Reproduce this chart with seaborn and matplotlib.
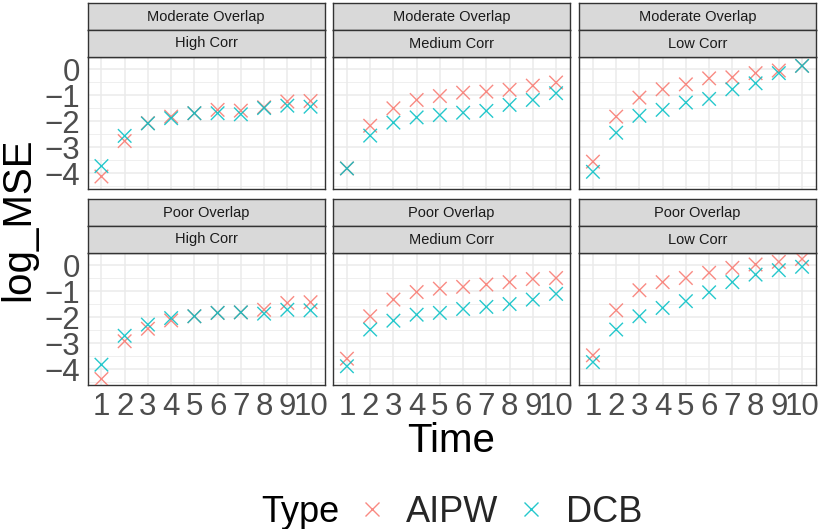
import numpy as np
import pandas as pd
import matplotlib
matplotlib.use("Agg")
import matplotlib.pyplot as plt
from matplotlib.lines import Line2D
from matplotlib.ticker import MultipleLocator
import seaborn as sns

# ---------------- data ----------------
times = list(range(1, 11))
overlaps = ["Moderate Overlap", "Moderate Overlap", "Moderate Overlap",
            "Poor Overlap", "Poor Overlap", "Poor Overlap"]
corrs = ["High Corr", "Medium Corr", "Low Corr",
         "High Corr", "Medium Corr", "Low Corr"]
types = ["AIPW", "DCB"]

aipw_mod_high = [-4.12, -2.76, -2.07, -1.82, -1.69, -1.56, -1.59, -1.46, -1.24, -1.22]
dcb_mod_high = [-3.72, -2.56, -2.08, -1.88, -1.69, -1.69, -1.73, -1.49, -1.40, -1.44]
aipw_mod_med = [-3.81, -2.17, -1.50, -1.18, -1.03, -0.90, -0.86, -0.79, -0.63, -0.51]
dcb_mod_med = [-3.81, -2.55, -2.05, -1.85, -1.76, -1.67, -1.60, -1.37, -1.18, -0.92]
aipw_mod_low = [-3.55, -1.82, -1.09, -0.77, -0.58, -0.35, -0.31, -0.15, -0.05, 0.13]
dcb_mod_low = [-3.94, -2.44, -1.79, -1.56, -1.28, -1.14, -0.77, -0.54, -0.15, 0.13]
aipw_poor_high = [-4.37, -2.92, -2.44, -2.12, -1.96, -1.83, -1.81, -1.71, -1.45, -1.42]
dcb_poor_high = [-3.82, -2.71, -2.28, -2.03, -1.96, -1.83, -1.81, -1.86, -1.71, -1.73]
aipw_poor_med = [-3.59, -1.96, -1.32, -1.03, -0.90, -0.83, -0.74, -0.65, -0.53, -0.49]
dcb_poor_med = [-3.88, -2.47, -2.13, -1.90, -1.83, -1.68, -1.60, -1.49, -1.32, -1.10]
aipw_poor_low = [-3.46, -1.73, -0.96, -0.65, -0.49, -0.29, -0.10, 0.03, 0.13, 0.24]
dcb_poor_low = [-3.72, -2.47, -1.96, -1.64, -1.38, -1.04, -0.65, -0.36, -0.19, -0.06]

aipw_series = [aipw_mod_high, aipw_mod_med, aipw_mod_low,
               aipw_poor_high, aipw_poor_med, aipw_poor_low]
dcb_series = [dcb_mod_high, dcb_mod_med, dcb_mod_low,
              dcb_poor_high, dcb_poor_med, dcb_poor_low]

y_ticks = [0, -1, -2, -3, -4]

rows = []
for p in range(6):
    for t, a, d in zip(times, aipw_series[p], dcb_series[p]):
        rows.append(dict(panel=p, Time=t, log_MSE=a, Type="AIPW"))
        rows.append(dict(panel=p, Time=t, log_MSE=d, Type="DCB"))
df = pd.DataFrame(rows)

# ---------------- style ----------------
sns.set_theme(style="white")
plt.rcParams["font.family"] = ["Liberation Sans", "DejaVu Sans"]
palette = {"AIPW": "#F8766D", "DCB": "#00BFC4"}

W, H = 822, 529
fig = plt.figure(figsize=(W / 100, H / 100), dpi=100)

col_x = [87.5, 333.0, 579.0]
pw = 237.0
row_top = [57.0, 253.0]
ph = 132.0
sh = 27.0

ymin_d = df["log_MSE"].min()
ymax_d = df["log_MSE"].max()
rng = ymax_d - ymin_d
ylim = (ymin_d - 0.05 * rng, ymax_d + 0.05 * rng)

def frac(x, y_top, w, h):
    return [x / W, 1 - (y_top + h) / H, w / W, h / H]

for p in range(6):
    r, c = divmod(p, 3)
    ax = fig.add_axes(frac(col_x[c], row_top[r], pw, ph))
    sub = df[df["panel"] == p]
    sns.scatterplot(data=sub, x="Time", y="log_MSE", hue="Type", palette=palette,
                    hue_order=types, marker="x", s=95, linewidth=1.0, alpha=0.85,
                    legend=False, ax=ax, zorder=3)
    ax.set_xlim(0.4, 10.6)
    ax.set_ylim(*ylim)
    ax.set_xticks(times)
    ax.set_yticks(y_ticks)
    ax.yaxis.set_minor_locator(MultipleLocator(0.5))
    ax.grid(which="major", color="#EBEBEB", linewidth=1.1, zorder=0)
    ax.grid(which="minor", axis="y", color="#EBEBEB", linewidth=0.55, zorder=0)
    ax.set_axisbelow(True)
    ax.set_xlabel("")
    ax.set_ylabel("")
    for s in ax.spines.values():
        s.set_color("#333333")
        s.set_linewidth(1.0)
    ax.tick_params(axis="both", which="major", length=4, width=0.8, color="#333333",
                   labelsize=22.5, labelcolor="#4D4D4D", pad=1)
    ax.tick_params(axis="both", which="minor", length=0)
    if c != 0:
        ax.tick_params(axis="y", labelleft=False, length=0)
    if r != 1:
        ax.tick_params(axis="x", labelbottom=False, length=0)
    else:
        ax.set_xticklabels([str(t) for t in times])

    # strips
    for k, lab in enumerate([overlaps[p], corrs[p]]):
        top = row_top[r] - 2 * sh + k * sh
        sax = fig.add_axes(frac(col_x[c], top, pw, sh))
        sax.set_facecolor("#D9D9D9")
        sax.set_xticks([])
        sax.set_yticks([])
        for s in sax.spines.values():
            s.set_color("#333333")
            s.set_linewidth(1.0)
        sax.text(0.5, 0.5, lab, ha="center", va="center", fontsize=10.5,
                 color="#1A1A1A", transform=sax.transAxes)

# axis titles
fig.text(451 / W, 1 - 441 / H, "Time", ha="center", va="center", fontsize=29, color="black")
fig.text(18 / W, 1 - 219 / H, "log_MSE", ha="center", va="center", rotation=90,
         fontsize=29, color="black")

# legend
fig.text(300 / W, 1 - 512 / H, "Type", ha="center", va="center", fontsize=26, color="black")
handles = [Line2D([], [], linestyle="none", marker="x", markersize=9.5,
                  markeredgewidth=1.0, color=palette[t], alpha=0.85) for t in types]
fig.legend(handles, types, loc="center", bbox_to_anchor=(498 / W, 1 - 512 / H),
           ncol=2, frameon=False, fontsize=26, handletextpad=0.45, columnspacing=0.4,
           handlelength=1.0, borderpad=0, borderaxespad=0)

fig.savefig("out.png", dpi=100, facecolor="white")
